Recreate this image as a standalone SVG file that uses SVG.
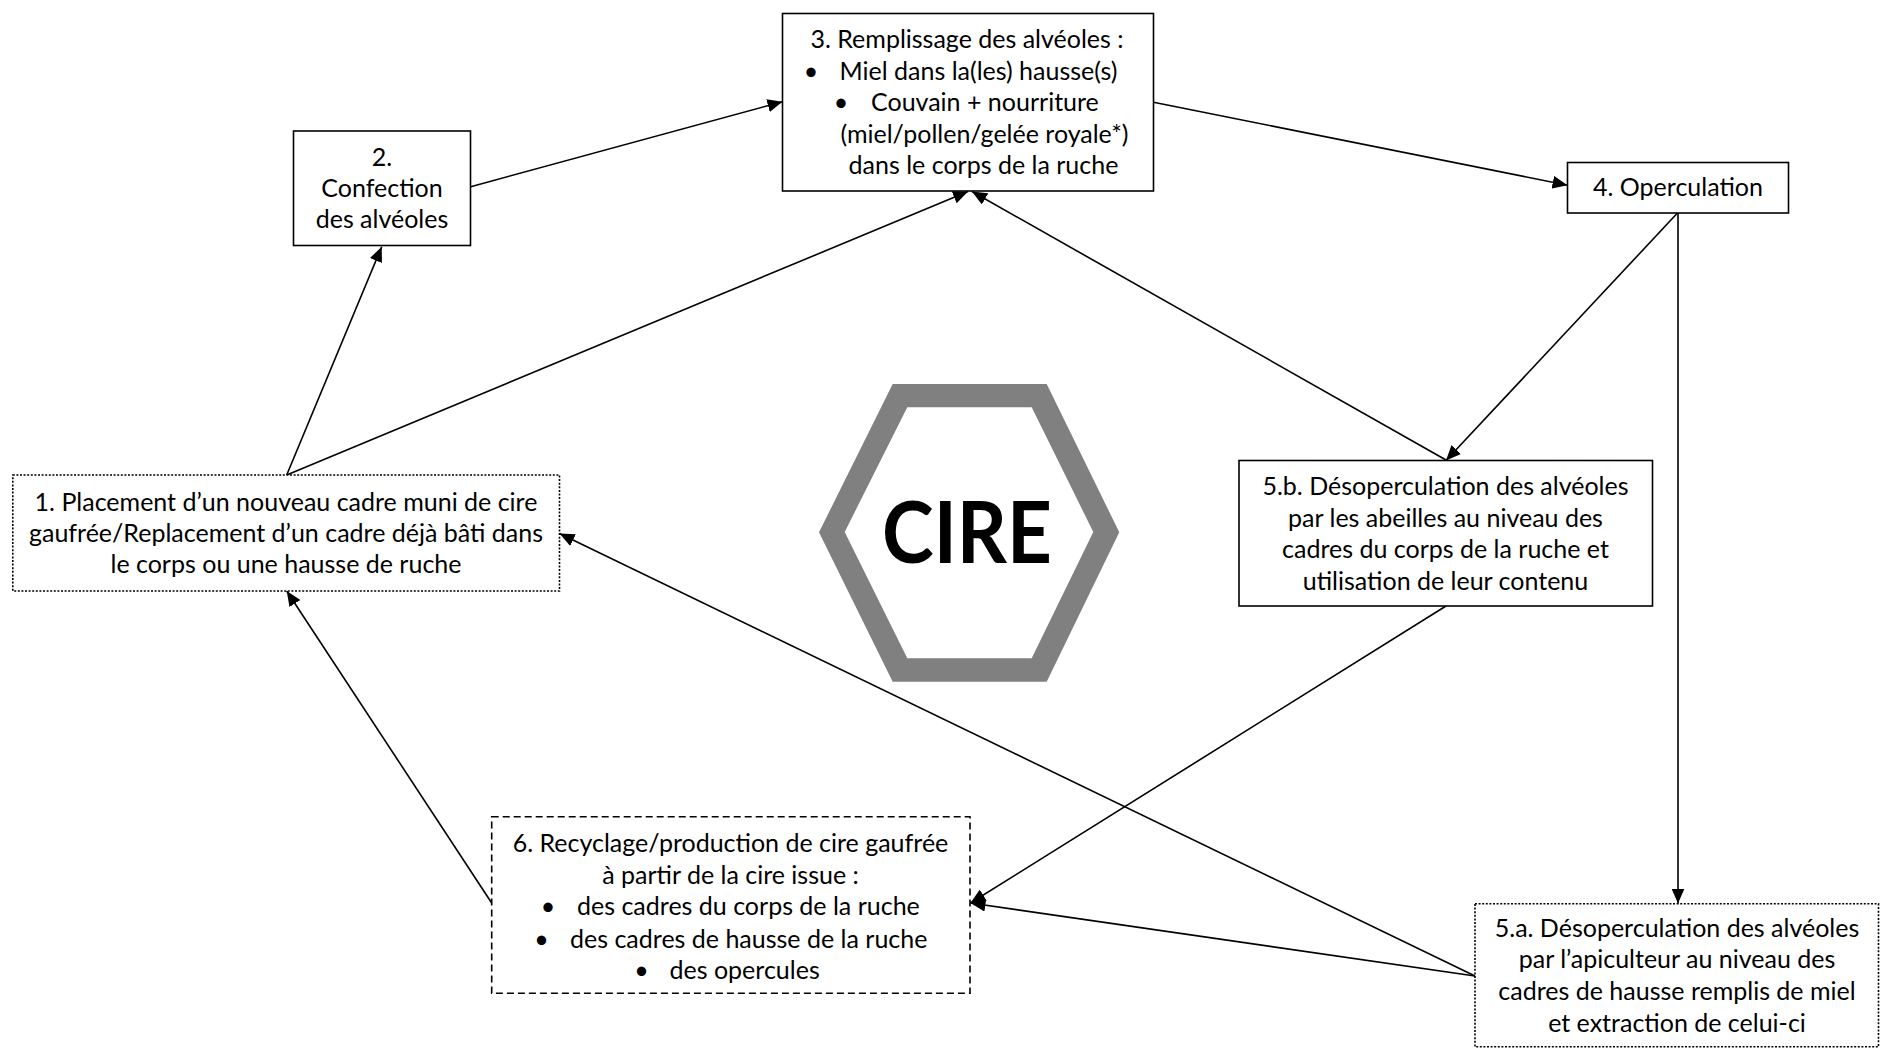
<svg xmlns="http://www.w3.org/2000/svg" width="1881" height="1048" viewBox="0 0 1881 1048">
<style>
  .box { fill: #ffffff; stroke: #000000; stroke-width: 1.6; }
  .dotted { stroke-dasharray: 2 1.6; }
  .dashed { stroke-dasharray: 7 4; }
  .t { font-family: Lato, "Open Sans", "Liberation Sans", sans-serif; font-size: 25px; fill: #000000; }
  .c { text-anchor: middle; }
  .b { text-anchor: middle; }
  .conn line { stroke: #000000; stroke-width: 1.6; fill: none; }
  .cire { font-family: Lato, "Open Sans", "Liberation Sans", sans-serif; font-weight: bold; font-size: 86px; fill: #000000; text-anchor: middle; }
</style>
<defs>
  <marker id="arr" markerUnits="userSpaceOnUse" markerWidth="16" markerHeight="13" refX="15" refY="6.5" orient="auto">
    <path d="M0,0 L15,6.5 L0,13 z" fill="#000000"/>
  </marker>
</defs>
<rect x="0" y="0" width="1881" height="1048" fill="#ffffff"/>

<g id="cire">
  <path fill="#808080" fill-rule="evenodd" d="M892.7,384 L1046.7,384 L1119.3,532.3 L1046.7,681.7 L892.7,681.7 L819,532.3 Z M907.3,407.3 L844.7,532 L907.3,658.3 L1031.7,658.3 L1093.3,532 L1031.7,407.3 Z"/>
  <text class="cire" x="967" y="563" textLength="170" lengthAdjust="spacingAndGlyphs">CIRE</text>
</g>

<g class="conn" id="connectors">
  <line x1="286.7" y1="475" x2="381.7" y2="246.7" marker-end="url(#arr)"/>
  <line x1="286.7" y1="475" x2="968" y2="191.5" marker-end="url(#arr)"/>
  <line x1="470.7" y1="186.7" x2="782.5" y2="101.7" marker-end="url(#arr)"/>
  <line x1="1153.5" y1="102.3" x2="1567.5" y2="185.2" marker-end="url(#arr)"/>
  <line x1="1446" y1="460" x2="972" y2="191.5" marker-end="url(#arr)"/>
  <line x1="1677.5" y1="213" x2="1446" y2="460.5" marker-end="url(#arr)"/>
  <line x1="1678" y1="213" x2="1678" y2="903.5" marker-end="url(#arr)"/>
  <line x1="1446" y1="606" x2="970.5" y2="903" marker-end="url(#arr)"/>
  <line x1="1475" y1="976" x2="970.5" y2="903" marker-end="url(#arr)"/>
  <line x1="1475" y1="976" x2="559.5" y2="533.5" marker-end="url(#arr)"/>
  <line x1="491.7" y1="903" x2="286.7" y2="591" marker-end="url(#arr)"/>
</g>

<g id="node3">
  <rect class="box" x="782.5" y="13.5" width="371" height="177.5"/>
  <text class="t c" x="967" y="48">3. Remplissage des alvéoles :</text>
  <text class="t b" x="811" y="79.5">•</text>
  <text class="t" x="839.5" y="79.5">Miel dans la(les) hausse(s)</text>
  <text class="t b" x="841" y="111">•</text>
  <text class="t" x="871" y="111">Couvain + nourriture</text>
  <text class="t c" x="984.5" y="142.5">(miel/pollen/gelée royale*)</text>
  <text class="t c" x="983.5" y="174">dans le corps de la ruche</text>
</g>

<g id="node2">
  <rect class="box" x="293.5" y="131" width="177" height="114.5"/>
  <text class="t c" x="382" y="165.5">2.</text>
  <text class="t c" x="382" y="197">Confection</text>
  <text class="t c" x="382" y="228">des alvéoles</text>
</g>

<g id="node4">
  <rect class="box" x="1567.5" y="162.5" width="221" height="50.5"/>
  <text class="t c" x="1678" y="196">4. Operculation</text>
</g>

<g id="node5b">
  <rect class="box" x="1239" y="460.5" width="413.5" height="145.5"/>
  <text class="t c" x="1445.5" y="495">5.b. Désoperculation des alvéoles</text>
  <text class="t c" x="1445.5" y="526.5">par les abeilles au niveau des</text>
  <text class="t c" x="1445.5" y="558">cadres du corps de la ruche et</text>
  <text class="t c" x="1445.5" y="589.5">utilisation de leur contenu</text>
</g>

<g id="node1">
  <rect class="box dotted" x="12.8" y="475" width="546.7" height="116"/>
  <text class="t c" x="286" y="511">1. Placement d’un nouveau cadre muni de cire</text>
  <text class="t c" x="286" y="542">gaufrée/Replacement d’un cadre déjà bâti dans</text>
  <text class="t c" x="286" y="573">le corps ou une hausse de ruche</text>
</g>

<g id="node6">
  <rect class="box dashed" x="491.7" y="816.7" width="478.3" height="176.6"/>
  <text class="t c" x="730.5" y="851.6">6. Recyclage/production de cire gaufrée</text>
  <text class="t c" x="730.5" y="884">à partir de la cire issue :</text>
  <text class="t b" x="548" y="915.2">•</text>
  <text class="t" x="577" y="915.2">des cadres du corps de la ruche</text>
  <text class="t b" x="541.5" y="947.6">•</text>
  <text class="t" x="570" y="947.6">des cadres de hausse de la ruche</text>
  <text class="t b" x="641.5" y="978.8">•</text>
  <text class="t" x="669.5" y="978.8">des opercules</text>
</g>

<g id="node5a">
  <rect class="box dotted" x="1475" y="903.8" width="403.5" height="143"/>
  <text class="t c" x="1677" y="937.2">5.a. Désoperculation des alvéoles</text>
  <text class="t c" x="1677" y="968.4">par l’apiculteur au niveau des</text>
  <text class="t c" x="1677" y="999.6">cadres de hausse remplis de miel</text>
  <text class="t c" x="1677" y="1032">et extraction de celui-ci</text>
</g>
</svg>
